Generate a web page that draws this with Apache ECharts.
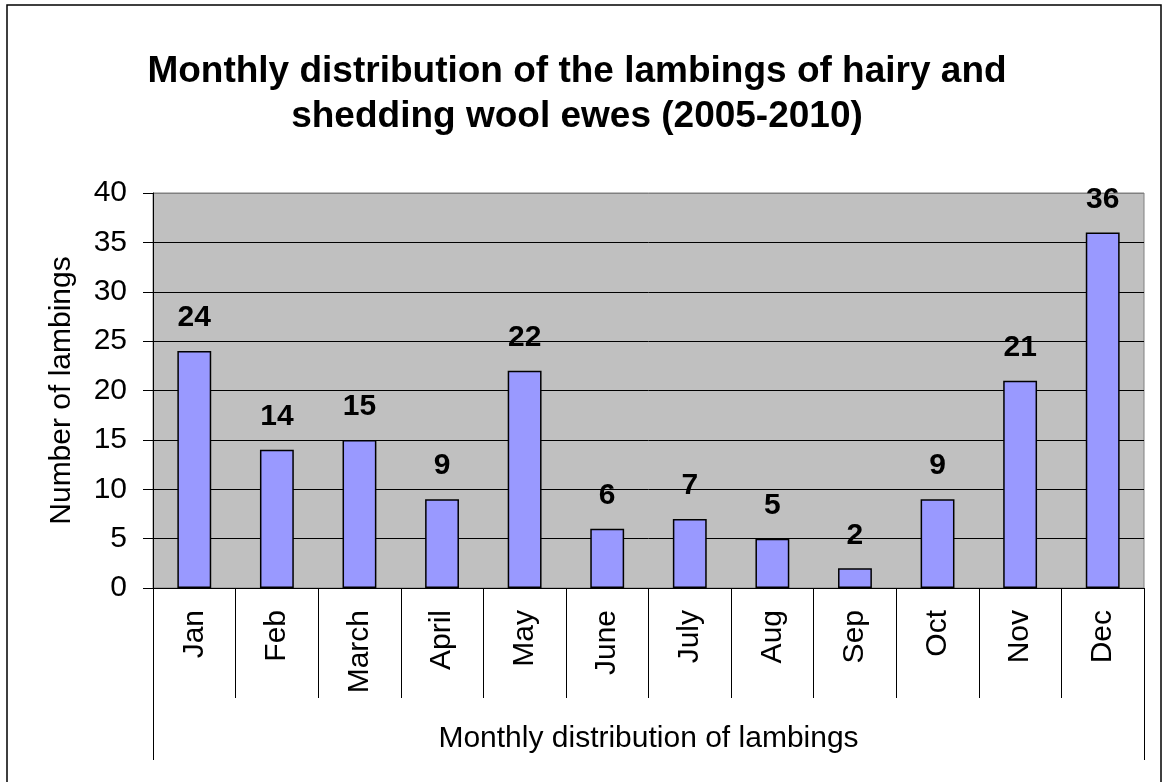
<!DOCTYPE html>
<html>
<head>
<meta charset="utf-8">
<title>Monthly distribution of lambings</title>
<script src="https://cdn.jsdelivr.net/npm/echarts@6/dist/echarts.min.js"></script>
<style>
    html, body { margin: 0; padding: 0; background: #fff; }
    #chart { width: 1162px; height: 782px; }
</style>
</head>
<body>
<div id="chart"></div>
<script>
// 数据
var months = ['Jan', 'Feb', 'March', 'April', 'May', 'June', 'July', 'Aug', 'Sep', 'Oct', 'Nov', 'Dec'];
var lambings = [24, 14, 15, 9, 22, 6, 7, 5, 2, 9, 21, 36];
var yTicks = [0, 5, 10, 15, 20, 25, 30, 35, 40];

var titleText = 'Monthly distribution of the lambings of hairy and\nshedding wool ewes (2005-2010)';
var yName = 'Number of lambings';
var xName = 'Monthly distribution of lambings';

// 绘图区位置
var gridLeft = 153, gridTop = 193, gridRight = 18, gridBottom = 194;
var W = 1162, H = 782;
var font = 'Liberation Sans, Arial, sans-serif';

// 网格线：最上面一条是灰色边框
var splitColors = yTicks.map(function (v, i) {
    return i === yTicks.length - 1 ? '#808080' : '#000';
});

var chart = echarts.init(document.getElementById('chart'), null, { renderer: 'canvas' });

var option = {
    backgroundColor: '#fff',
    animation: false,
    title: {
        text: titleText,
        left: 572,
        top: 44,
        textAlign: 'center',
        textStyle: {
            fontFamily: font,
            fontSize: 37,
            fontWeight: 'bold',
            color: '#000',
            lineHeight: 45
        }
    },
    grid: {
        left: gridLeft,
        top: gridTop,
        right: gridRight,
        bottom: gridBottom,
        show: true,
        backgroundColor: '#C0C0C0',
        borderColor: '#808080',
        borderWidth: 1
    },
    xAxis: {
        type: 'category',
        data: months,
        boundaryGap: true,
        name: xName,
        nameLocation: 'middle',
        nameGap: 136,
        nameTextStyle: { fontFamily: font, fontSize: 30, color: '#000' },
        axisLine: { show: true, lineStyle: { color: '#000', width: 1 } },
        axisTick: { show: true, length: 110, alignWithLabel: false, lineStyle: { color: '#000', width: 1 } },
        axisLabel: {
            rotate: 90,
            interval: 0,
            margin: 22,
            fontFamily: font,
            fontSize: 30,
            color: '#000'
        },
        splitLine: { show: false }
    },
    yAxis: {
        type: 'value',
        min: yTicks[0],
        max: yTicks[yTicks.length - 1],
        interval: yTicks[1] - yTicks[0],
        name: yName,
        nameLocation: 'middle',
        nameGap: 76,
        nameTextStyle: { fontFamily: font, fontSize: 30, color: '#000' },
        axisLine: { show: true, lineStyle: { color: '#000', width: 1 } },
        axisTick: { show: true, length: 10, inside: false, lineStyle: { color: '#000', width: 1 } },
        axisLabel: {
            margin: 26,
            fontFamily: font,
            fontSize: 30,
            color: '#000'
        },
        splitLine: { show: true, lineStyle: { color: splitColors, width: 1 } }
    },
    series: [{
        type: 'bar',
        data: lambings,
        barCategoryGap: '59%',
        itemStyle: {
            color: '#9999FF',
            borderColor: '#000',
            borderWidth: 1.5
        },
        label: {
            show: true,
            position: 'top',
            distance: 18,
            fontFamily: font,
            fontSize: 30,
            fontWeight: 'bold',
            color: '#000'
        }
    }],
    graphic: [
        // 外框
        {
            type: 'rect',
            shape: { x: 7, y: 5, width: 1154, height: 800 },
            style: { fill: null, stroke: '#000', lineWidth: 1.5 },
            silent: true
        },
        // 左右两条长分隔线
        {
            type: 'line',
            shape: { x1: gridLeft + 0.5, y1: H - gridBottom, x2: gridLeft + 0.5, y2: 760 },
            style: { stroke: '#000', lineWidth: 1 },
            silent: true
        },
        {
            type: 'line',
            shape: { x1: W - gridRight + 0.5, y1: H - gridBottom, x2: W - gridRight + 0.5, y2: 760 },
            style: { stroke: '#000', lineWidth: 1 },
            silent: true
        }
    ]
};

chart.setOption(option);
</script>
</body>
</html>
